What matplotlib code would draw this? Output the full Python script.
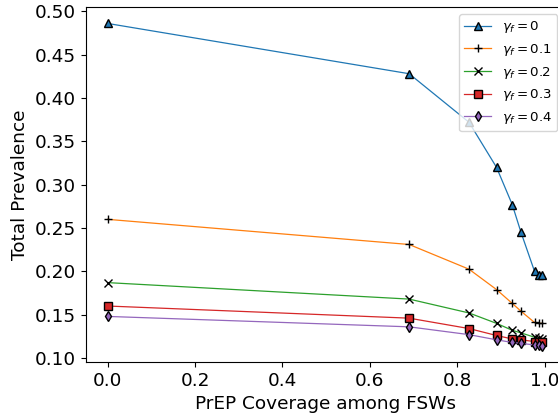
import numpy as np
import matplotlib
matplotlib.use("Agg")
import matplotlib.pyplot as plt

# PrEP coverage among FSWs (x values)
coverage = [0.0, 0.69, 0.827, 0.89, 0.926, 0.946, 0.977, 0.987, 0.995]

# total prevalence for each gamma_f
prev_g0 = [0.486, 0.428, 0.372, 0.320, 0.277, 0.245, 0.200, 0.196, 0.196]
prev_g01 = [0.260, 0.231, 0.2025, 0.179, 0.163, 0.154, 0.141, 0.140, 0.140]
prev_g02 = [0.187, 0.168, 0.152, 0.140, 0.132, 0.129, 0.124, 0.123, 0.122]
prev_g03 = [0.160, 0.146, 0.134, 0.126, 0.122, 0.121, 0.119, 0.118, 0.118]
prev_g04 = [0.148, 0.136, 0.127, 0.121, 0.118, 0.117, 0.115, 0.115, 0.114]

labels = [r'$\gamma_f = 0$', r'$\gamma_f = 0.1$', r'$\gamma_f = 0.2$',
          r'$\gamma_f = 0.3$', r'$\gamma_f = 0.4$']

fig = plt.figure(figsize=(5.58, 4.19), dpi=100)
# axes runs slightly past the right edge, as in the original crop
ax = fig.add_axes([0.154, 0.136, 0.857, 0.8465])

ms = 5.2
lw = 0.9
ax.plot(coverage, prev_g0, '-^', color='C0', lw=lw, ms=ms, mfc='C0', mec='black', label=labels[0])
ax.plot(coverage, prev_g01, '-+', color='C1', lw=lw, ms=ms + 0.5, mec='black', label=labels[1])
ax.plot(coverage, prev_g02, '-x', color='C2', lw=lw, ms=ms, mec='black', label=labels[2])
ax.plot(coverage, prev_g03, '-s', color='C3', lw=lw, ms=ms, mfc='C3', mec='black', label=labels[3])
ax.plot(coverage, prev_g04, '-d', color='C4', lw=lw, ms=ms, mfc='C4', mec='black', label=labels[4])

ax.set_xlabel('PrEP Coverage among FSWs', fontsize=13.3)
ax.set_ylabel('Total Prevalence', fontsize=13.3)
ax.tick_params(labelsize=13.3)
ax.legend(loc='upper right', fontsize=9.6)

fig.savefig('out.png', dpi=100)
